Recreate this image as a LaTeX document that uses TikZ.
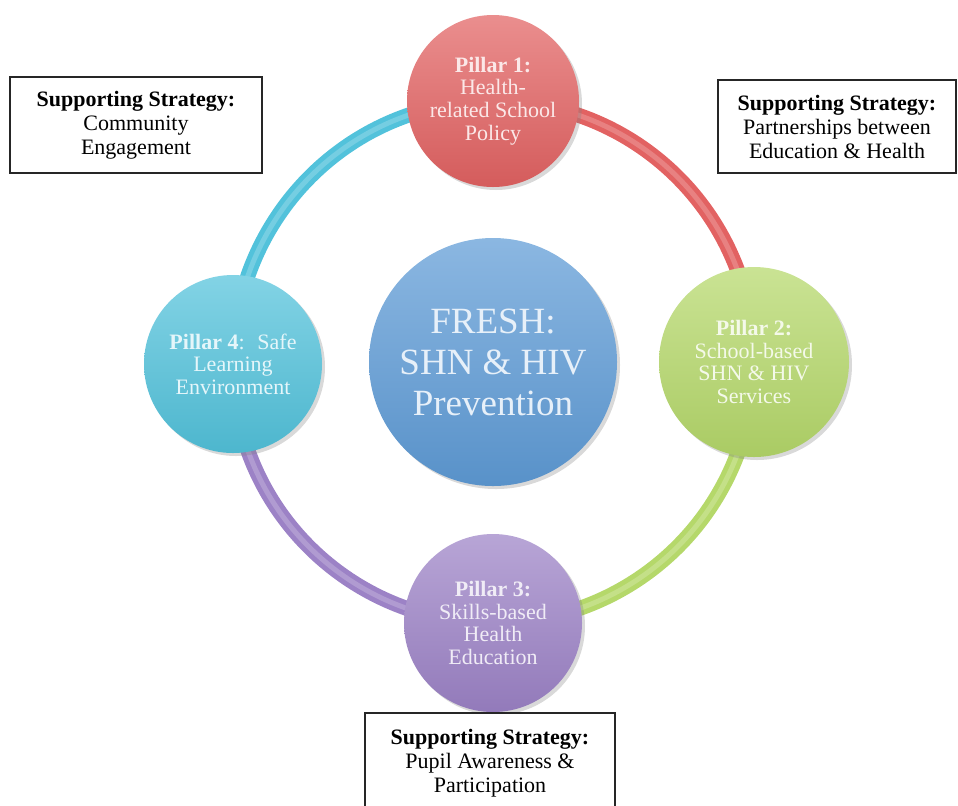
\documentclass[tikz,border=0pt]{standalone}
\usepackage{fontspec}
\setmainfont{Liberation Serif}
\usetikzlibrary{shadows,backgrounds}

\definecolor{pilred}{HTML}{E26262}
\definecolor{pilgreen}{HTML}{B5D86A}
\definecolor{pilpurple}{HTML}{9C82C6}
\definecolor{pilcyan}{HTML}{52C2DB}
\definecolor{pilblue}{HTML}{5E9BD6}

\begin{document}
\begin{tikzpicture}
      [x=0.5pt, y=0.5pt,
       button/.style={circle, inner sep=0pt, align=center,
                      font=\fontsize{11}{11.3}\selectfont,
                      shading=axis, top color=#1!72!white, middle color=#1,
                      bottom color=#1!94!black, text=white!85!#1,
                      drop shadow={shadow xshift=1.5pt, shadow yshift=-1.5pt, opacity=0.3}},
       strategy/.style={draw=black!85, line width=1pt, fill=white, align=center,
                        inner sep=0pt, font=\fontsize{11}{12}\selectfont},
       ring/.style={draw=#1, double=#1!80!white, double distance=2.5pt, line width=2.5pt}]
      \useasboundingbox (0,0) rectangle (958,-805);
      \clip (0,0) rectangle (958,-805);

      % the hub and the four pillars
      \node [button=pilblue, minimum size=124pt, font=\fontsize{18.5}{20.5}\selectfont]
            (fresh) at (493,-362) {FRESH:\\SHN \& HIV\\Prevention};
      \node [button=pilred,    minimum size=86pt] (p1) at (493,-101)
            {\textbf{Pillar 1:}\\Health-\\related School\\Policy};
      \node [button=pilgreen,  minimum size=95pt] (p2) at (754,-362)
            {\textbf{Pillar 2:}\\School-based\\SHN \& HIV\\Services};
      \node [button=pilpurple, minimum size=89pt] (p3) at (493,-623)
            {\textbf{Pillar 3:}\\Skills-based\\Health\\Education};
      \node [button=pilcyan,   minimum size=89pt] (p4) at (233,-364)
            {\textbf{Pillar 4}:~ Safe\\Learning\\Environment};

      \begin{scope}[on background layer]
        \draw [ring=pilred]    (p1.center) to [out=0,   in=90]  (p2.center);
        \draw [ring=pilgreen]  (p2.center) to [out=270, in=0]   (p3.center);
        \draw [ring=pilpurple] (p3.center) to [out=180, in=270] (p4.center);
        \draw [ring=pilcyan]   (p4.center) to [out=90,  in=180] (p1.center);
      \end{scope}

      % supporting strategies
      \node [strategy, minimum width=126pt, minimum height=48pt] (comm) at (136,-125)
            {\textbf{Supporting Strategy:}\\Community\\Engagement};
      \node [strategy, minimum width=119pt, minimum height=46.5pt] (partner) at (837,-126.5)
            {\textbf{Supporting Strategy:}\\Partnerships between\\Education \& Health};
      \node [strategy, minimum width=125pt, minimum height=50pt] (pupil) at (490,-763)
            {\textbf{Supporting Strategy:}\\Pupil Awareness \&\\Participation};
\end{tikzpicture}
\end{document}
